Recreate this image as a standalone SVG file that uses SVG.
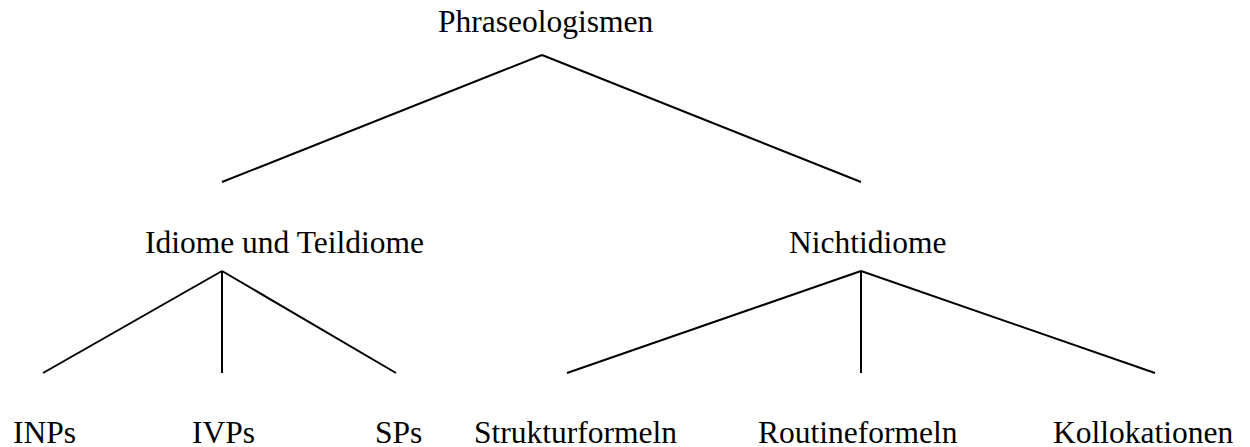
<svg xmlns="http://www.w3.org/2000/svg" width="1250" height="447" viewBox="0 0 1250 447">
<style>
text{font-family:"Liberation Serif","Times New Roman",serif;font-size:31.5px;fill:#000}
line{stroke:#000;stroke-width:2;fill:none}
</style>
<rect width="1250" height="447" fill="#fff"/>
<g id="connectors">
<line x1="542" y1="55" x2="222" y2="182"/>
<line x1="542" y1="55" x2="861" y2="182"/>
<line x1="222" y1="271" x2="43" y2="373"/>
<line x1="222" y1="271" x2="222" y2="373"/>
<line x1="222" y1="271" x2="396" y2="373"/>
<line x1="861" y1="271" x2="567" y2="373"/>
<line x1="861" y1="271" x2="861" y2="373"/>
<line x1="861" y1="271" x2="1155" y2="373"/>
</g>
<g id="n-root"><text x="438" y="32">Phraseologismen</text></g>
<g id="n-idiome"><text x="145" y="253">Idiome und Teildiome</text></g>
<g id="n-nicht"><text x="789" y="253">Nichtidiome</text></g>
<g id="n-inp"><text x="13" y="443">INPs</text></g>
<g id="n-ivp"><text x="192" y="443">IVPs</text></g>
<g id="n-sp"><text x="375" y="443">SPs</text></g>
<g id="n-struktur"><text x="474" y="443">Strukturformeln</text></g>
<g id="n-routine"><text x="758" y="443">Routineformeln</text></g>
<g id="n-koll"><text x="1053" y="443">Kollokationen</text></g>
</svg>
